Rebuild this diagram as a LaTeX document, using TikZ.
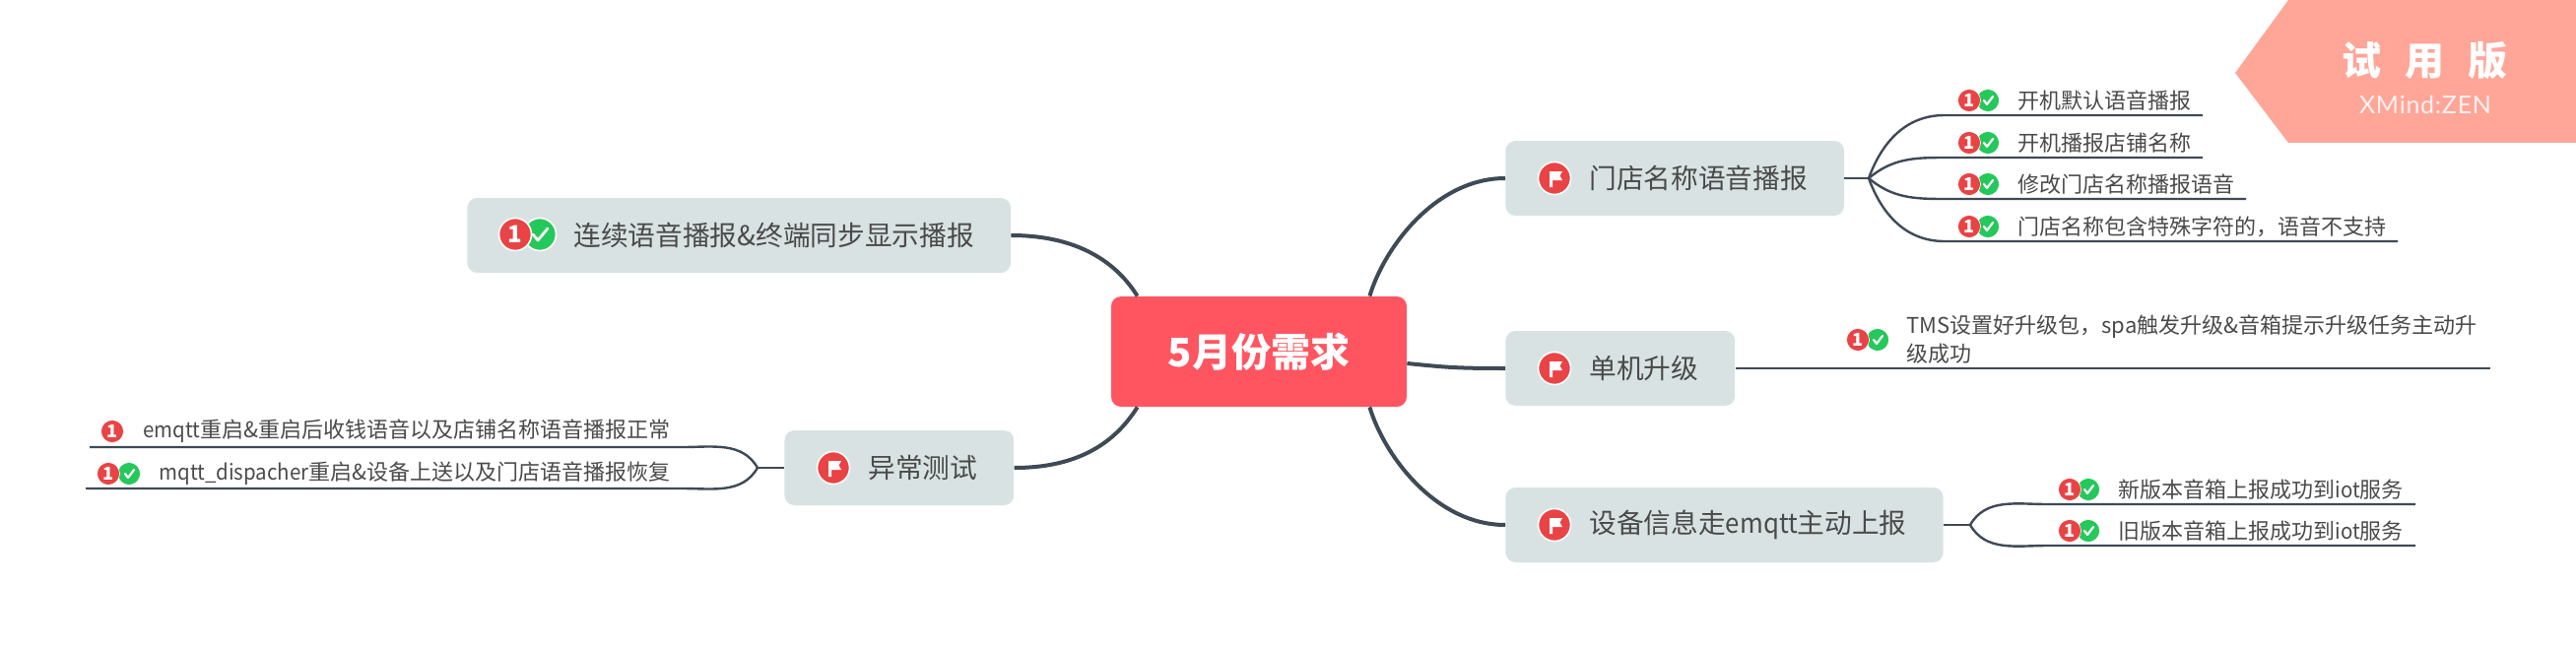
\documentclass[tikz,border=0pt]{standalone}
\usepackage{fontspec}
\setmainfont{Noto Sans CJK SC}
\newfontfamily\markfont[LetterSpace=3]{Lato}
\newfontfamily\narrowlat[FakeStretch=.93]{Noto Sans CJK SC}
\usetikzlibrary{calc}

\definecolor{rootred}{HTML}{FF5561}
\definecolor{boxgray}{HTML}{D9E2E3}
\definecolor{linegray}{HTML}{3E4A56}
\definecolor{textgray}{HTML}{4A4A4A}
\definecolor{dotred}{HTML}{E94345}
\definecolor{dotgreen}{HTML}{25C85A}
\definecolor{markpink}{HTML}{FFA698}

\tikzset{
  rootbox/.style={rectangle, rounded corners=5pt, fill=rootred, text=white, font=\fontsize{20}{24}\selectfont\bfseries, minimum width=150pt, minimum height=56pt, inner sep=0pt},
  topicbox/.style={rectangle, rounded corners=5pt, fill=boxgray, text=textgray, font=\fontsize{13.85}{18}\selectfont, minimum height=38pt, inner xsep=18.5pt, inner ysep=0pt, anchor=west},
  subtext/.style={text=textgray, font=\fontsize{11}{14.5}\selectfont, inner sep=0pt, anchor=west, align=left},
  mainline/.style={linegray, line width=2pt},
  subline/.style={linegray, line width=1.2pt},
  bigdot/.style={circle, draw=white, line width=.8pt, minimum size=16.5pt, inner sep=0pt, text=white, font=\fontsize{12}{12}\selectfont\bfseries},
  smalldot/.style={circle, draw=white, line width=.3pt, minimum size=11.5pt, inner sep=0pt, text=white, font=\fontsize{9}{9}\selectfont\bfseries},
  checkline/.style={white, line width=1.1pt, line cap=round, line join=round}
}

% icon macros: name, x of red dot, x of green dot, y
\newcommand{\smallpair}[4]{
  \node[smalldot, fill=dotgreen] (#1chk) at (#3,#4) {};
  \draw[checkline] ($(#1chk)+(-4,0)$) --++(3,4) --++(6,-8);
  \node[smalldot, fill=dotred] (#1one) at (#2,#4) {1};
}
\newcommand{\flagdot}[3]{
  \node[bigdot, fill=dotred] (#1) at (#2,#3) {};
  \fill[white] ($(#1)+(-5,-7)$) --++(13,0) --++(-2.5,4.5) --++(2.5,4.5) --++(-10,0) --++(0,7) --++(-3,0) --cycle;
}

\begin{document}
\begin{tikzpicture}[x=.5pt, y=-.5pt]
\useasboundingbox (0,0) rectangle (2615,659);

\fill[markpink] (2269,74)--(2323,0)--(2615,0)--(2615,145)--(2323,145)--cycle;
\node[text=white, font=\fontsize{20}{24}\selectfont\bfseries, inner sep=0pt] (marktop) at (2461,62) {试\hspace{12pt}用\hspace{12pt}版};
\node[text=white, opacity=.85, font=\markfont\fontsize{12.5}{15}\selectfont, inner sep=0pt] (marksub) at (2462,106) {XMind:ZEN};

\node[rootbox] (root) at (1278,357) {5月份需求};

\node[topicbox] (mendian) at (1528,181) {\hspace*{24pt}门店名称语音播报};
\node[topicbox] (danji) at (1528,374) {\hspace*{24pt}单机升级};
\node[topicbox] (shebei) at (1528,533) {\hspace*{24pt}设备信息走{\narrowlat emqtt}主动上报};
\node[topicbox] (lianxu) at (474,239) {\hspace*{35.5pt}连续语音播报\&终端同步显示播报};
\node[topicbox] (yichang) at (796,475) {\hspace*{24pt}异常测试};

\draw[mainline] (root.north east) ++(-38,0) .. controls +(15,-50) and +(-70,0) .. (mendian.west);
\draw[mainline] (root.east) ++(0,12) .. controls +(40,4) and +(-50,0) .. (danji.west);
\draw[mainline] (root.south east) ++(-38,0) .. controls +(15,50) and +(-70,0) .. (shebei.west);
\draw[mainline] (root.north west) ++(27,0) .. controls +(-25,-40) and +(60,0) .. (lianxu.east);
\draw[mainline] (root.south west) ++(27,0) .. controls +(-25,40) and +(60,0) .. (yichang.east);

\flagdot{flagmen}{1578}{181}
\flagdot{flagdan}{1578}{374}
\flagdot{flagshe}{1578}{533}
\flagdot{flagyi}{846}{475}

\node[bigdot, fill=dotgreen] (lianchk) at (548,238) {};
\draw[checkline, line width=1.4pt] ($(lianchk)+(-7,0)$) --++(5,6) --++(10,-12);
\node[bigdot, fill=dotred] (lianone) at (523,238) {1};

% right branch, top
\coordinate (jmen) at (1897,181);
\draw[subline] (mendian.east) -- (jmen);
\foreach \nm/\yl/\xe/\ang/\txt in {ma/117/2236/70/开机默认语音播报, mb/160/2236/40/开机播报店铺名称, mc/202/2280/-40/修改门店名称播报语音, md/245/2434/-70/门店名称包含特殊字符的，语音不支持}
{
  \coordinate (\nm s) at (1974,\yl);
  \coordinate (\nm e) at (\xe,\yl);
  \draw[subline] (jmen) to[out=\ang, in=180] (\nm s) -- (\nm e);
  \node[subtext] (\nm) at (2048,\yl-15) {\txt};
  \smallpair{\nm}{1999}{2018}{\yl-15}
}

% single upgrade
\coordinate (dane) at (2528,374);
\draw[subline] (danji.east) -- (dane);
\node[subtext] (dantext) at (1935,345) {TMS设置好升级包，spa触发升级\&音箱提示升级任务主动升\\级成功};
\smallpair{dan}{1886}{1906}{345}

% device report
\coordinate (jshe) at (2000,533);
\draw[subline] (shebei.east) -- (jshe);
\foreach \nm/\yl/\ang/\txt in {sa/512/60/新版本音箱上报成功到{\narrowlat iot}服务, sb/554/-60/旧版本音箱上报成功到{\narrowlat iot}服务}
{
  \coordinate (\nm s) at (2078,\yl);
  \coordinate (\nm e) at (2452,\yl);
  \draw[subline] (jshe) to[out=\ang, in=180] (\nm s) -- (\nm e);
  \node[subtext] (\nm) at (2150,\yl-15) {\txt};
  \smallpair{\nm}{2101}{2120}{\yl-15}
}

% left branch
\coordinate (jyi) at (769,475);
\draw[subline] (yichang.west) -- (jyi);
\coordinate (yas) at (693,454);
\coordinate (yae) at (91,454);
\coordinate (ybs) at (693,496);
\coordinate (ybe) at (87,496);
\draw[subline] (jyi) to[out=120, in=0] (yas) -- (yae);
\draw[subline] (jyi) to[out=-120, in=0] (ybs) -- (ybe);
\node[subtext] (ya) at (145,438) {{\narrowlat emqtt}重启\&重启后收钱语音以及店铺名称语音播报正常};
\node[smalldot, fill=dotred] (yaone) at (114,438) {1};
\node[subtext] (yb) at (161,481) {{\narrowlat mqtt\_dispacher}重启\&设备上送以及门店语音播报恢复};
\smallpair{yb}{110}{131}{481}

\end{tikzpicture}
\end{document}
